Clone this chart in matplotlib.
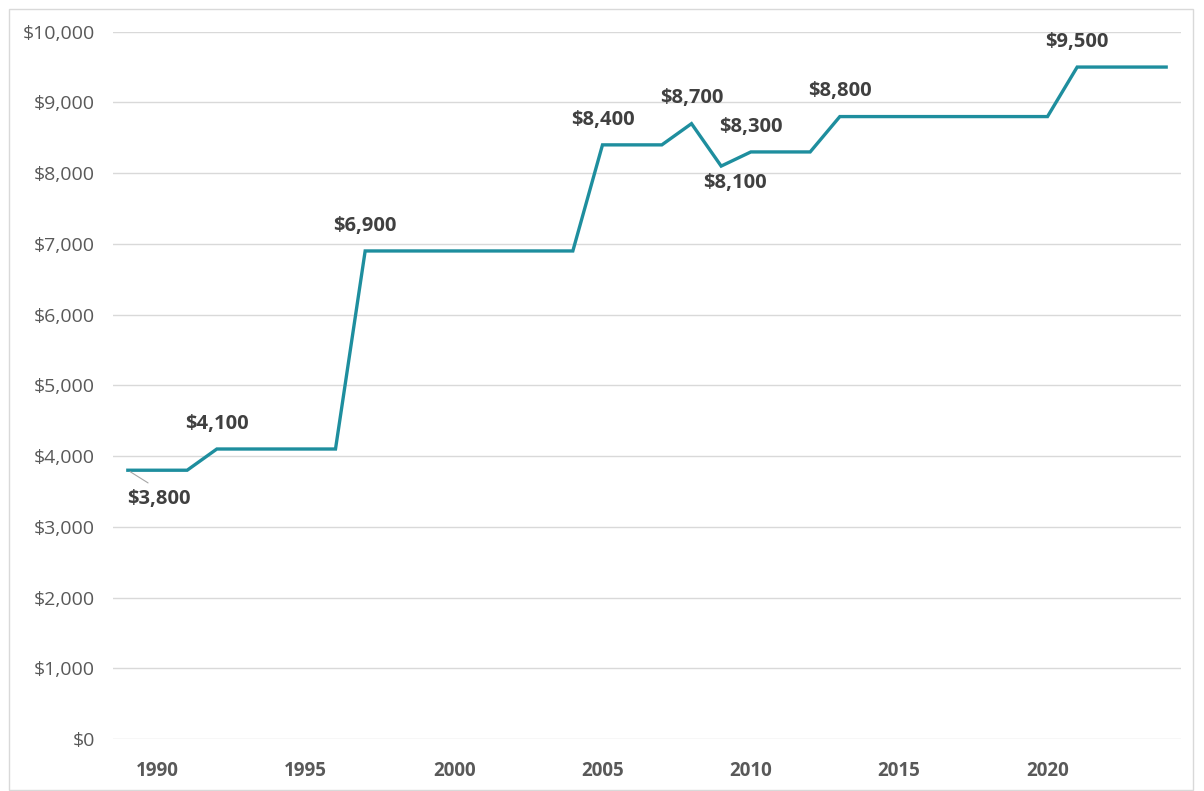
import matplotlib
matplotlib.use("Agg")
import matplotlib.pyplot as plt
from matplotlib.patches import Rectangle

years = list(range(1989, 2025))
values = ([3800] * 3 + [4100] * 5 + [6900] * 8 + [8400] * 3 + [8700, 8100]
          + [8300] * 3 + [8800] * 8 + [9500] * 4)
tick_years = [1990, 1995, 2000, 2005, 2010, 2015, 2020]
y_ticks = list(range(0, 10001, 1000))

# labelled points: (year, text, position)
labels = [
    (1992, "$4,100", "above"),
    (1997, "$6,900", "above"),
    (2005, "$8,400", "above"),
    (2008, "$8,700", "above"),
    (2009, "$8,100", "below"),
    (2010, "$8,300", "above"),
    (2013, "$8,800", "above"),
    (2021, "$9,500", "above"),
]

plt.rcParams['font.family'] = ['Open Sans', 'DejaVu Sans']

fig = plt.figure(figsize=(12.04, 7.91), dpi=100)
fig.patches.append(Rectangle((9 / 1204, 1 / 791), 1184 / 1204, 781 / 791,
                             transform=fig.transFigure, fill=False,
                             edgecolor='#D9D9D9', linewidth=1.0))
ax = fig.add_axes([113 / 1204, 1 - 739 / 791, (1181 - 113) / 1204, (739 - 31.7) / 791])

line_color = '#1E8E9E'
ax.plot(years, values, color=line_color, linewidth=2.4, solid_joinstyle='miter', zorder=3)

ax.set_xlim(years[0] - 0.5, years[-1] + 0.5)
ax.set_ylim(0, 10000)
ax.set_yticks(y_ticks)
ax.set_yticklabels([f"${v:,}" for v in y_ticks], fontsize=14, color='#595959')
ax.set_xticks(tick_years)
ax.set_xticklabels([str(y) for y in tick_years], fontsize=13.5, color='#595959',
                   fontweight='bold')
ax.tick_params(length=0, axis='y', pad=13)
ax.tick_params(length=0, axis='x', pad=16)
ax.grid(axis='y', color='#D9D9D9', linewidth=1.0)
ax.set_axisbelow(True)
for s in ax.spines.values():
    s.set_visible(False)

lab_size = 14.5
val = dict(zip(years, values))
for yr, txt, pos in labels:
    if pos == "above":
        ax.annotate(txt, (yr, val[yr]), xytext=(0, 11), textcoords='offset points',
                    ha='center', va='bottom', fontsize=lab_size, fontweight='bold',
                    color='#404040')
    else:
        ax.annotate(txt, (yr, val[yr]), xytext=(10, -5), textcoords='offset points',
                    ha='center', va='top', fontsize=lab_size, fontweight='bold',
                    color='#404040')

# first point label with leader line
ax.annotate("$3,800", (years[0], values[0]), xytext=(22, -21), textcoords='offset points',
            ha='center', va='center', fontsize=lab_size, fontweight='bold', color='#404040',
            arrowprops=dict(arrowstyle='-', color='#A6A6A6', lw=0.8, relpos=(0.5, 1.0),
                            shrinkA=5, shrinkB=2))

fig.savefig("out.png", dpi=100)
